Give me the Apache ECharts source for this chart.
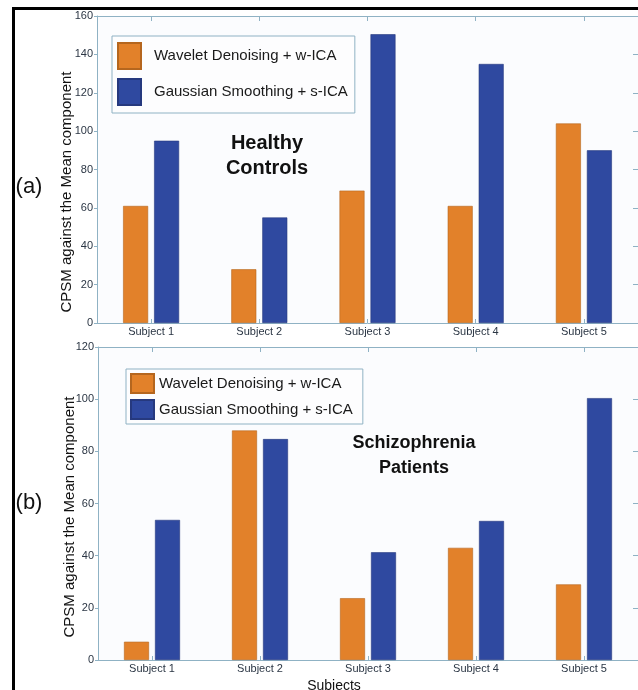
<!DOCTYPE html>
<html><head><meta charset="utf-8">
<script src="https://cdn.jsdelivr.net/npm/echarts@6/dist/echarts.min.js"></script>
<style>html,body{margin:0;padding:0;background:#fff}#c{width:638px;height:690px}</style>
</head><body><div id="c"></div>
<script>
const categories = ['Subject 1', 'Subject 2', 'Subject 3', 'Subject 4', 'Subject 5'];
const seriesNames = ['Wavelet Denoising + w-ICA', 'Gaussian Smoothing + s-ICA'];
const healthyWavelet = [61, 28, 69, 61, 104];
const healthyGaussian = [95, 55, 150.5, 135, 90];
const patientsWavelet = [7, 88, 23.7, 43, 29];
const patientsGaussian = [53.7, 84.7, 41.3, 53.3, 100.4];
const topTicks = { min: 0, max: 160, interval: 20 };
const bottomTicks = { min: 0, max: 120, interval: 20 };

const ORANGE = '#e2812a', BLUE = '#2f49a0', AX = '#8fb2c4', TXT = '#2b3644';
const FONT = 'Liberation Sans, Arial, Helvetica, sans-serif';

function xAxes(gi) {
  return [
    { type: 'category', gridIndex: gi, data: categories, position: 'bottom',
      axisLine: { show: true, lineStyle: { color: AX } },
      axisTick: { show: true, alignWithLabel: true, inside: true, length: 4, lineStyle: { color: AX } },
      axisLabel: { color: TXT, fontSize: 11, fontFamily: FONT, margin: 3 } },
    { type: 'category', gridIndex: gi, data: categories, position: 'top',
      axisLine: { show: true, onZero: false, lineStyle: { color: AX } },
      axisTick: { show: true, alignWithLabel: true, inside: true, length: 5, lineStyle: { color: AX } },
      axisLabel: { show: false } }
  ];
}
function yAxes(gi, t) {
  return [
    { type: 'value', gridIndex: gi, min: t.min, max: t.max, interval: t.interval, position: 'left',
      splitLine: { show: false },
      axisLine: { show: true, lineStyle: { color: AX } },
      axisTick: { show: true, length: 3, lineStyle: { color: AX } },
      axisLabel: { color: TXT, fontSize: 11, fontFamily: FONT, margin: 4 } },
    { type: 'value', gridIndex: gi, min: t.min, max: t.max, interval: t.interval, position: 'right',
      splitLine: { show: false },
      axisLine: { show: true, lineStyle: { color: AX } },
      axisTick: { show: true, inside: true, length: 5, lineStyle: { color: AX } },
      axisLabel: { show: false } }
  ];
}
function bar(name, data, color, border, xi, yi) {
  return { type: 'bar', name, data, xAxisIndex: xi, yAxisIndex: yi,
    barWidth: 25, barGap: '24%',
    itemStyle: { color, borderColor: border, borderWidth: 0.6 } };
}
function txt(x, y, text, size, weight, rot) {
  return { type: 'text', x, y, rotation: rot || 0, z: 10,
    style: { text, fontSize: size, fontWeight: weight || 'normal', fontFamily: FONT,
      fill: '#111', align: 'center', verticalAlign: 'middle' } };
}

const chart = echarts.init(document.getElementById('c'));
chart.setOption({
  animation: false,
  backgroundColor: '#ffffff',
  grid: [
    { left: 97, top: 16, width: 542, height: 307, show: true, backgroundColor: '#fbfcfe', borderWidth: 0 },
    { left: 98, top: 347, width: 541, height: 313, show: true, backgroundColor: '#fbfcfe', borderWidth: 0 }
  ],
  xAxis: [...xAxes(0), ...xAxes(1)],
  yAxis: [...yAxes(0, topTicks), ...yAxes(1, bottomTicks)],
  legend: [
    { orient: 'vertical', left: 112, top: 36, padding: [6, 7, 7, 5], itemGap: 8,
      itemWidth: 23, itemHeight: 26, icon: 'rect', data: seriesNames,
      borderColor: AX, borderWidth: 1, backgroundColor: '#fdfdfe',
      textStyle: { fontSize: 15, fontFamily: FONT, color: '#1a1a1a', padding: [0, 0, 0, 8] } },
    { orient: 'vertical', left: 126, top: 369, padding: [4, 10, 4, 4], itemGap: 5,
      itemWidth: 23, itemHeight: 19, icon: 'rect', data: seriesNames,
      borderColor: AX, borderWidth: 1, backgroundColor: '#fdfdfe',
      textStyle: { fontSize: 15, fontFamily: FONT, color: '#1a1a1a' } }
  ],
  series: [
    bar(seriesNames[0], healthyWavelet, ORANGE, '#b5661e', 0, 0),
    bar(seriesNames[1], healthyGaussian, BLUE, '#26397e', 0, 0),
    bar(seriesNames[0], patientsWavelet, ORANGE, '#b5661e', 2, 2),
    bar(seriesNames[1], patientsGaussian, BLUE, '#26397e', 2, 2)
  ],
  graphic: [
    { type: 'rect', shape: { x: 13.5, y: 8.5, width: 700, height: 700 }, z: 20,
      style: { fill: 'none', stroke: '#000', lineWidth: 3 } },
    txt(29, 187, '(a)', 22),
    txt(29, 503, '(b)', 22),
    txt(267, 143, 'Healthy', 20, 'bold'),
    txt(267, 168, 'Controls', 20, 'bold'),
    txt(414, 443, 'Schizophrenia', 18, 'bold'),
    txt(414, 468, 'Patients', 18, 'bold'),
    txt(67, 192, 'CPSM against the Mean component', 15, 'normal', Math.PI / 2),
    txt(70, 517, 'CPSM against the Mean component', 15, 'normal', Math.PI / 2),
    txt(334, 686, 'Subjects', 14)
  ]
});
</script></body></html>
